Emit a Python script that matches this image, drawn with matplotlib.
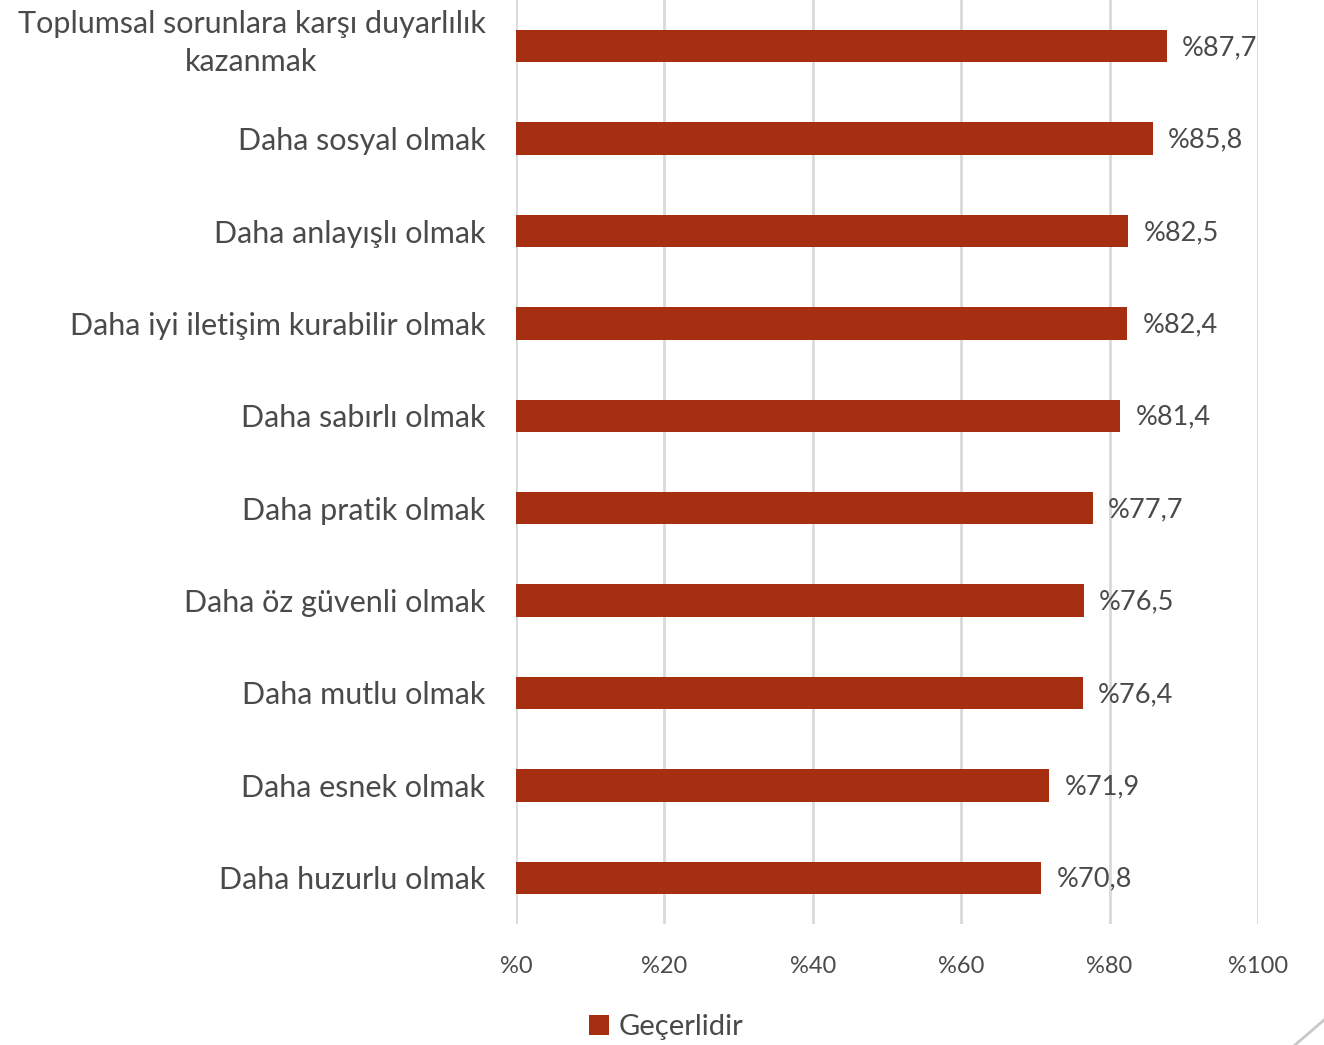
from matplotlib import pyplot as plt
from matplotlib.lines import Line2D
import matplotlib.transforms as mtransforms
import numpy as np

plt.rcParams['font.family'] = ['Lato', 'DejaVu Sans']

categories = [
    "Toplumsal sorunlara karşı duyarlılık\nkazanmak",
    "Daha sosyal olmak",
    "Daha anlayışlı olmak",
    "Daha iyi iletişim kurabilir olmak",
    "Daha sabırlı olmak",
    "Daha pratik olmak",
    "Daha öz güvenli olmak",
    "Daha mutlu olmak",
    "Daha esnek olmak",
    "Daha huzurlu olmak",
]
values = [87.7, 85.8, 82.5, 82.4, 81.4, 77.7, 76.5, 76.4, 71.9, 70.8]
xticks = [0, 20, 40, 60, 80, 100]
series_name = "Geçerlidir"

BAR_COLOR = "#A52F10"
TEXT_COLOR = "#4A4A4A"
GRID_COLOR = "#D9D9D9"

fig = plt.figure(figsize=(13.24, 10.45), dpi=100)
ax = fig.add_axes([516 / 1324, 1 - 924 / 1045, (1258 - 516) / 1324, 924 / 1045])

y = np.arange(len(categories))
bars = ax.barh(y, values, height=0.35, color=BAR_COLOR, label=series_name, zorder=3)

for yi, v in zip(y, values):
    ax.annotate("%" + f"{v:.1f}".replace(".", ","), (v, yi), xytext=(11, -1),
                textcoords="offset points", va="center", ha="left",
                fontsize=19.5, color=TEXT_COLOR)

ax.set_xlim(0, 100)
ax.set_ylim(len(categories) - 0.5, -0.5)
ax.set_xticks(xticks)
ax.set_xticklabels(["%" + str(t) for t in xticks], fontsize=17, color=TEXT_COLOR)
ax.set_yticks(y)
ax.set_yticklabels(categories, fontsize=22, color=TEXT_COLOR)
for lbl in ax.get_yticklabels():
    lbl.set_multialignment("center")
    lbl.set_linespacing(1.45)
ax.tick_params(axis="both", length=0)
ax.tick_params(axis="x", pad=23)
ax.tick_params(axis="y", pad=22)

# the two-line label sits a little higher than its bar
first = ax.get_yticklabels()[0]
first.set_transform(first.get_transform() +
                    mtransforms.ScaledTranslation(0, 8 / 72, fig.dpi_scale_trans))

ax.grid(axis="x", color=GRID_COLOR, linewidth=2, zorder=0)
for s in ax.spines.values():
    s.set_visible(False)

leg = fig.legend(handles=[bars], labels=[series_name], loc="center",
                 bbox_to_anchor=(666 / 1324, 1 - 1027 / 1045), frameon=False,
                 fontsize=21, handlelength=0.7, handleheight=0.7, handletextpad=0.3)
for t in leg.get_texts():
    t.set_color(TEXT_COLOR)

# small resize mark in the corner
fig.add_artist(Line2D([1295 / 1324, 1.0], [0, 25 / 1045], color="#C8C8C8", linewidth=2))

fig.savefig("out.png", dpi=100)
